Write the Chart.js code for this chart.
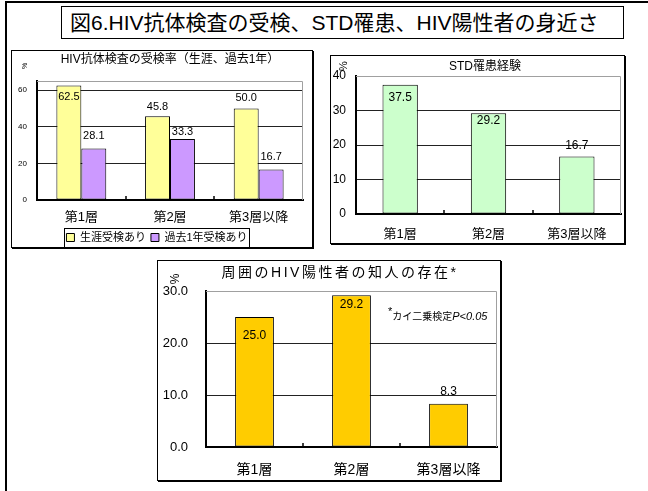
<!DOCTYPE html>
<html>
<head>
<meta charset="utf-8">
<script src="https://cdn.jsdelivr.net/npm/chart.js@4.4.0/dist/chart.umd.min.js"></script>
<style>
  body { margin: 0; width: 648px; height: 491px; overflow: hidden; position: relative; background: #fff; }
  .frame { position: absolute; left: 5px; top: 1px; width: 700px; height: 600px; border-left: 2px solid #000; border-top: 2px solid #000; }
  .heading {
    position: absolute; left: 61px; top: 6px; width: 553px; height: 31px; padding-left: 8px;
    border: 1px solid #000; font: 21px "Liberation Sans", "Noto Sans CJK JP", sans-serif; line-height: 31px; color: #000;
    white-space: nowrap;
  }
  canvas { position: absolute; }
</style>
</head>
<body>
<div class="frame"></div>
<div class="heading">図6.HIV抗体検査の受検、STD罹患、HIV陽性者の身近さ</div>
<canvas id="testing" width="303" height="203" style="left:11px;top:50px"></canvas>
<canvas id="std" width="296" height="190" style="left:330px;top:55px"></canvas>
<canvas id="acquaint" width="345" height="222" style="left:157px;top:260px"></canvas>
<script>
const tiers = ['第1層', '第2層', '第3層以降'];

const lifetimeTested = [62.5, 45.8, 50.0];
const pastYearTested = [28.1, 33.3, 16.7];
const stdExperience = [37.5, 29.2, 16.7];
const knowsPositive = [25.0, 29.2, 8.3];

const testingTicks = [0, 20, 40, 60];
const stdTicks = [0, 10, 20, 30, 40];
const acquaintTicks = [0, 10, 20, 30];

const FONT = '"Liberation Sans", "Noto Sans CJK JP", sans-serif';

// frame, titles, value labels and the little tick marks between categories
const decor = {
  id: 'decor',
  beforeDatasetsDraw(chart) {
    const { ctx, chartArea: a } = chart;
    ctx.save();
    ctx.strokeStyle = '#a0a0a0';
    ctx.lineWidth = 1;
    ctx.beginPath();
    ctx.moveTo(a.left, Math.round(a.top) + 0.5);
    ctx.lineTo(Math.round(a.right) - 0.5, Math.round(a.top) + 0.5);
    ctx.lineTo(Math.round(a.right) - 0.5, a.bottom);
    ctx.stroke();
    ctx.restore();
  },
  afterDatasetsDraw(chart, args, opts) {
    const { ctx, chartArea: a } = chart;
    const x = chart.scales.x;
    ctx.save();

    ctx.strokeStyle = '#000';
    ctx.lineWidth = 1.5;
    for (let i = 0; i < x.ticks.length - 1; i++) {
      const px = Math.round((x.getPixelForTick(i) + x.getPixelForTick(i + 1)) / 2);
      ctx.beginPath();
      ctx.moveTo(px, a.bottom);
      ctx.lineTo(px, a.bottom - 4);
      ctx.stroke();
    }

    ctx.fillStyle = '#000';
    ctx.font = `${opts.labelSize}px ${FONT}`;
    ctx.textAlign = 'center';
    ctx.textBaseline = 'middle';
    chart.data.datasets.forEach((ds, di) => {
      chart.getDatasetMeta(di).data.forEach((bar, i) => {
        ctx.fillText(ds.data[i].toFixed(1), bar.x, bar.y - opts.labelShift[di][i]);
      });
    });
    ctx.restore();
  },
  afterDraw(chart, args, opts) {
    const { ctx } = chart;
    const [w, h] = opts.box;
    ctx.save();

    // chart box with a heavier right and bottom edge
    ctx.strokeStyle = '#000';
    ctx.lineWidth = 1;
    ctx.strokeRect(0.5, 0.5, w - 2, h - 2);
    ctx.fillStyle = '#000';
    ctx.fillRect(w - 1, 1, 1, h - 1);
    ctx.fillRect(1, h - 1, w - 1, 1);

    // title
    ctx.font = `${opts.title.size}px ${FONT}`;
    ctx.textAlign = 'center';
    ctx.textBaseline = 'middle';
    ctx.letterSpacing = (opts.title.spacing || 0) + 'px';
    ctx.fillText(opts.title.text, opts.title.x, opts.title.y);
    ctx.letterSpacing = '0px';

    // unit
    ctx.save();
    ctx.translate(opts.unit.x, opts.unit.y);
    ctx.rotate(-Math.PI / 2);
    ctx.font = `${opts.unit.size}px ${FONT}`;
    ctx.fillText('%', 0, 0);
    ctx.restore();

    // footnote
    if (opts.note) {
      const n = opts.note;
      ctx.textAlign = 'left';
      ctx.font = `11px ${FONT}`;
      ctx.fillText('*', n.x, n.y - 5);
      let cx = n.x + ctx.measureText('*').width;
      ctx.font = `10px ${FONT}`;
      ctx.fillText('カイ二乗検定', cx, n.y);
      cx += ctx.measureText('カイ二乗検定').width;
      ctx.font = `italic 11px ${FONT}`;
      ctx.fillText('P<0.05', cx, n.y);
    }

    // legend frame
    if (chart.legend && chart.legend.options.display) {
      const boxes = chart.legend.legendHitBoxes;
      const l = Math.min(...boxes.map(b => b.left)) - 2;
      const r = Math.max(...boxes.map(b => b.left + b.width)) + 2;
      const t = Math.min(...boxes.map(b => b.top)) - 4;
      const btm = Math.max(...boxes.map(b => b.top + b.height)) + 5;
      ctx.strokeStyle = '#000';
      ctx.lineWidth = 1;
      ctx.strokeRect(Math.round(l) + 0.5, Math.round(t) + 0.5, Math.round(r - l), Math.round(btm - t));
    }
    ctx.restore();
  }
};

Chart.register(decor);

function yAxis(ticks, max, width, pad, size, fmt) {
  return {
    min: 0,
    max,
    afterBuildTicks: (s) => { s.ticks = ticks.map(v => ({ value: v })); },
    afterFit: (s) => { s.width = width; },
    grid: {
      color: (c) => (c.tick && c.tick.value === max ? 'rgba(0,0,0,0)' : '#222'),
      lineWidth: 1,
      drawTicks: false,
    },
    border: { display: true, color: '#000', width: 2 },
    ticks: { padding: pad, color: '#000', font: { size, family: FONT }, callback: fmt },
  };
}

function xAxis(height, pad, size) {
  return {
    afterFit: (s) => { s.height = height; },
    grid: { display: false, drawTicks: false },
    border: { display: true, color: '#000', width: 2 },
    ticks: { padding: pad, color: '#000', font: { size, family: FONT }, maxRotation: 0 },
  };
}

const common = {
  responsive: false,
  animation: false,
  events: [],
  plugins: { tooltip: { enabled: false } },
};

new Chart(document.getElementById('testing'), {
  type: 'bar',
  data: {
    labels: tiers,
    datasets: [
      { label: '生涯受検あり', data: lifetimeTested, backgroundColor: '#ffff99', borderColor: '#000', borderWidth: 1, borderSkipped: false },
      { label: '過去1年受検あり', data: pastYearTested, backgroundColor: '#cc99ff', borderColor: '#000', borderWidth: 1, borderSkipped: false },
    ],
  },
  options: {
    ...common,
    categoryPercentage: 0.5625,
    barPercentage: 1,
    layout: { padding: { top: 31, right: 11, left: 0, bottom: 0 } },
    scales: {
      x: xAxis(27, 10, 13),
      y: yAxis(testingTicks, 65, 26, 10, 8, v => v),
    },
    plugins: {
      ...common.plugins,
      legend: {
        position: 'bottom',
        labels: { boxWidth: 8, boxHeight: 8, padding: 5, color: '#000', font: { size: 11, family: FONT } },
      },
      decor: {
        box: [303, 199],
        title: { text: 'HIV抗体検査の受検率（生涯、過去1年）', x: 159, y: 10, size: 12 },
        unit: { x: 14, y: 16, size: 7 },
        labelSize: 11,
        labelShift: [[-11, 9.5, 10], [13, 7, 12.5]],
      },
    },
  },
});

new Chart(document.getElementById('std'), {
  type: 'bar',
  data: {
    labels: tiers,
    datasets: [
      { label: 'STD罹患経験', data: stdExperience, backgroundColor: '#ccffcc', borderColor: '#000', borderWidth: 1, borderSkipped: false },
    ],
  },
  options: {
    ...common,
    categoryPercentage: 0.4,
    barPercentage: 1,
    layout: { padding: { top: 21, right: 5, left: 0, bottom: 0 } },
    scales: {
      x: xAxis(31, 13, 13),
      y: yAxis(stdTicks, 40, 26, 10, 12, v => v),
    },
    plugins: {
      ...common.plugins,
      legend: { display: false },
      decor: {
        box: [296, 190],
        title: { text: 'STD罹患経験', x: 155, y: 12, size: 12 },
        unit: { x: 14, y: 11, size: 11 },
        labelSize: 12,
        labelShift: [[-13, -7, 11]],
      },
    },
  },
});

new Chart(document.getElementById('acquaint'), {
  type: 'bar',
  data: {
    labels: tiers,
    datasets: [
      { label: '周囲のHIV陽性者の知人の存在', data: knowsPositive, backgroundColor: '#ffcc00', borderColor: '#000', borderWidth: 1, borderSkipped: false },
    ],
  },
  options: {
    ...common,
    categoryPercentage: 0.4,
    barPercentage: 1,
    layout: { padding: { top: 31, right: 5, left: 0, bottom: 0 } },
    scales: {
      x: xAxis(35, 15, 14),
      y: yAxis(acquaintTicks, 30, 49, 18, 13, v => v.toFixed(1)),
    },
    plugins: {
      ...common.plugins,
      legend: { display: false },
      decor: {
        box: [345, 222],
        title: { text: '周囲のHIV陽性者の知人の存在*', x: 183, y: 13, size: 14, spacing: 2.5 },
        unit: { x: 19, y: 19, size: 12 },
        note: { x: 231, y: 57 },
        labelSize: 12,
        labelShift: [[-19, -10, 12]],
      },
    },
  },
});
</script>
</body>
</html>
